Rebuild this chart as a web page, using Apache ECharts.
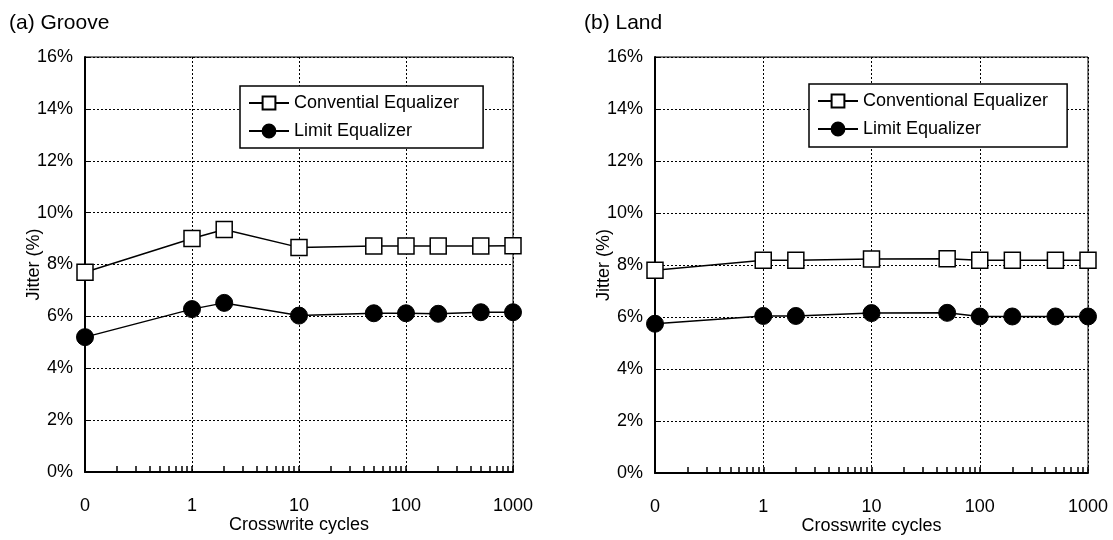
<!DOCTYPE html>
<html>
<head>
<meta charset="utf-8">
<script src="https://cdn.jsdelivr.net/npm/echarts@6/dist/echarts.min.js"></script>
<style>html,body{margin:0;padding:0;background:#fff}#c{width:1113px;height:540px}</style>
</head>
<body>
<div id="c"></div>
<script>
// x positions: "0" cycles plotted at 0.1 on the log axis
const cycles = [0.1, 1, 2, 10, 50, 100, 200, 500, 1000];
const xTickLabels = {0.1: '0', 1: '1', 10: '10', 100: '100', 1000: '1000'};
const minorTicks = [0.2,0.3,0.4,0.5,0.6,0.7,0.8,0.9,1,2,3,4,5,6,7,8,9,10,20,30,40,50,60,70,80,90,100,200,300,400,500,600,700,800,900,1000];
const grooveConventional = [7.7, 9.0, 9.35, 8.66, 8.71, 8.71, 8.71, 8.71, 8.72];
const grooveLimit = [5.2, 6.28, 6.52, 6.03, 6.12, 6.12, 6.1, 6.16, 6.16];
const landConventional = [7.8, 8.18, 8.18, 8.23, 8.24, 8.18, 8.18, 8.18, 8.18];
const landLimit = [5.74, 6.04, 6.04, 6.15, 6.16, 6.02, 6.02, 6.02, 6.02];
const titles = ['(a) Groove', '(b) Land'];
const legendNames = [['Convential Equalizer', 'Limit Equalizer'], ['Conventional Equalizer', 'Limit Equalizer']];

const FONT = "'Liberation Sans', Arial, sans-serif";
const chart = echarts.init(document.getElementById('c'), null, {renderer: 'canvas'});

const grids = [
  {left: 85, width: 428, top: 57, height: 415, show: true, borderColor: '#000', borderWidth: 1},
  {left: 655, width: 433, top: 57, height: 420, show: true, borderColor: '#000', borderWidth: 1}
];
const xAxes = [], yAxes = [], series = [], legends = [];
[0, 1].forEach(i => {
  xAxes.push({
    type: 'log', logBase: 10, min: 0.1, max: 1000, gridIndex: i,
    name: 'Crosswrite cycles', nameLocation: 'middle', nameGap: 44, nameMoveOverlap: false,
    nameTextStyle: {fontFamily: FONT, fontSize: 18, color: '#000'},
    axisLine: {lineStyle: {color: '#000', width: 2}},
    axisTick: {show: false},
    axisLabel: {fontFamily: FONT, fontSize: 18, color: '#000', margin: 25,
      formatter: v => { const k = Math.round(v * 10) / 10; return xTickLabels[k] !== undefined ? xTickLabels[k] : ''; }},
    splitLine: {show: true, lineStyle: {color: '#000', type: [2, 2], width: 1}}
  });
  xAxes.push({
    type: 'log', logBase: 10, min: 0.1, max: 1000, gridIndex: i, position: 'bottom',
    axisLine: {show: false},
    axisLabel: {show: false},
    splitLine: {show: false},
    axisTick: {show: true, inside: true, length: 6, customValues: minorTicks, lineStyle: {color: '#000', width: 1.5}}
  });
  yAxes.push({
    type: 'value', min: 0, max: 16, interval: 2, gridIndex: i,
    name: 'Jitter (%)', nameLocation: 'middle', nameGap: 42, nameRotate: 90, nameMoveOverlap: false,
    nameTextStyle: {fontFamily: FONT, fontSize: 18, color: '#000'},
    axisLine: {show: true, lineStyle: {color: '#000', width: 2}},
    axisTick: {show: true, inside: true, length: 4, lineStyle: {color: '#000'}},
    axisLabel: {fontFamily: FONT, fontSize: 18, color: '#000', margin: 12, formatter: v => v + '%'},
    splitLine: {show: true, lineStyle: {color: '#000', type: [2, 2], width: 1}}
  });
});
const data = [[grooveConventional, grooveLimit], [landConventional, landLimit]];
[0, 1].forEach(i => {
  series.push({
    type: 'line', name: legendNames[i][0], xAxisIndex: i * 2, yAxisIndex: i,
    data: cycles.map((c, k) => [c, data[i][0][k]]),
    symbol: 'rect', symbolSize: 16, showAllSymbol: true,
    lineStyle: {color: '#000', width: 1.5},
    itemStyle: {color: '#fff', borderColor: '#000', borderWidth: 1.5},
    z: 3
  });
  series.push({
    type: 'line', name: legendNames[i][1], xAxisIndex: i * 2, yAxisIndex: i,
    data: cycles.map((c, k) => [c, data[i][1][k]]),
    symbol: 'circle', symbolSize: 17, showAllSymbol: true,
    lineStyle: {color: '#000', width: 1.5},
    itemStyle: {color: '#000', borderColor: '#000', borderWidth: 1},
    z: 3
  });
});
legends.push({
  data: legendNames[0], orient: 'vertical', left: 240, top: 86,
  backgroundColor: '#fff', borderColor: '#000', borderWidth: 1.5,
  padding: [8, 24, 8, 8], itemGap: 10, itemWidth: 40, itemHeight: 16,
  textStyle: {fontFamily: FONT, fontSize: 18, color: '#000'}, selectedMode: false
});
legends.push({
  data: legendNames[1], orient: 'vertical', left: 809, top: 84,
  backgroundColor: '#fff', borderColor: '#000', borderWidth: 1.5,
  padding: [8, 19, 9, 8], itemGap: 10, itemWidth: 40, itemHeight: 16,
  textStyle: {fontFamily: FONT, fontSize: 18, color: '#000'}, selectedMode: false
});
const option = {
  animation: false,
  backgroundColor: '#fff',
  title: [
    {text: titles[0], left: 4, top: 8, textStyle: {fontFamily: FONT, fontSize: 21, fontWeight: 'normal', color: '#000'}},
    {text: titles[1], left: 579, top: 8, textStyle: {fontFamily: FONT, fontSize: 21, fontWeight: 'normal', color: '#000'}}
  ],
  grid: grids,
  xAxis: xAxes,
  yAxis: yAxes,
  legend: legends,
  series: series
};
chart.setOption(option);
</script>
</body>
</html>
